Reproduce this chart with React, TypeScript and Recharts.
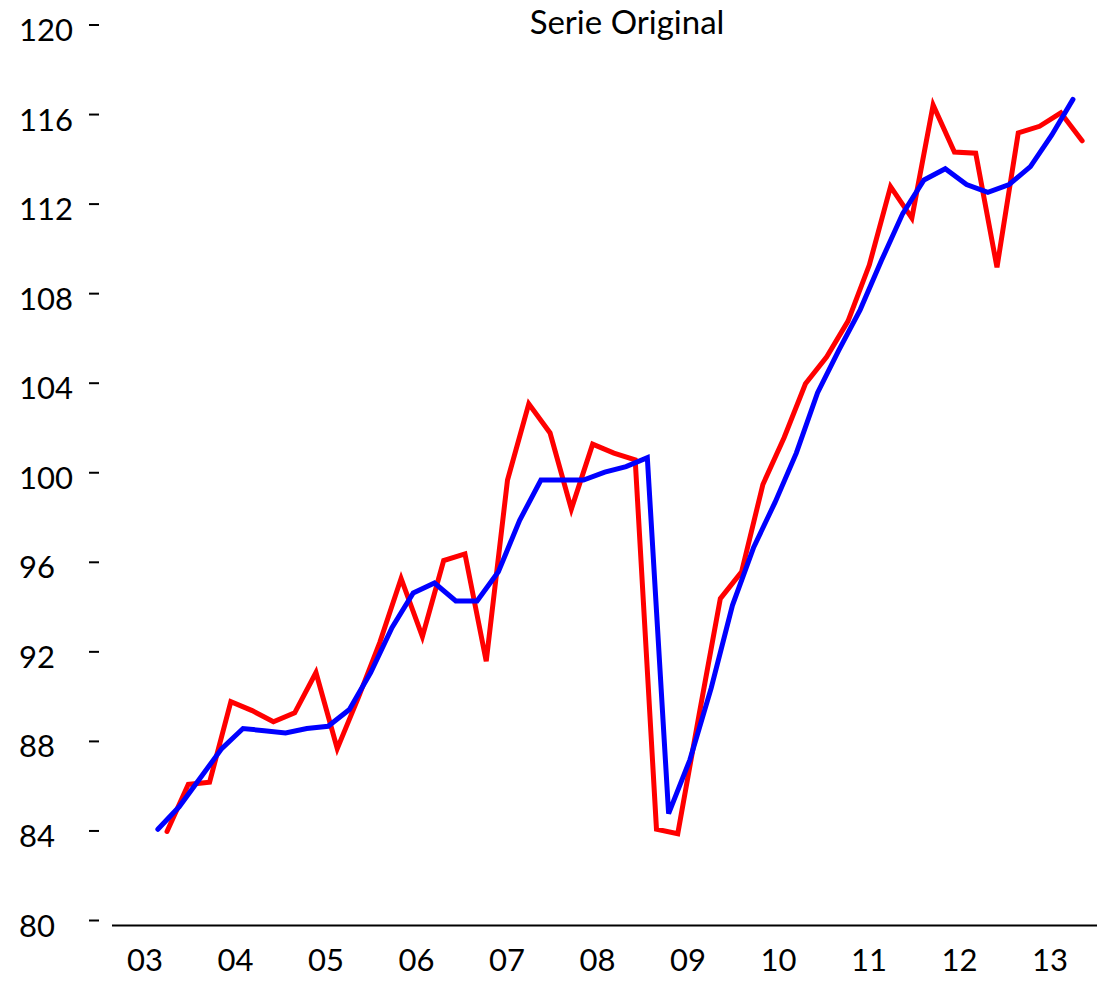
import React from 'react';
import { LineChart, Line, XAxis, YAxis } from 'recharts';

// Quarterly values (44 quarters)
const redValues: number[] = [
  84.2, 86.3, 86.4, 90.0, 89.6, 89.1, 89.5, 91.3, 87.9, 90.2,
  92.65, 95.5, 92.9, 96.3, 96.6, 91.8, 99.9, 103.3, 102.0, 98.6,
  101.5, 101.1, 100.8, 84.3, 84.1, 89.4, 94.6, 95.8, 99.7, 101.8,
  104.2, 105.4, 107.0, 109.5, 113.0, 111.6, 116.65, 114.55, 114.5, 109.4,
  115.4, 115.7, 116.3, 115.05,
];

const blueValues: number[] = [
  84.3, 85.3, 86.6, 87.9, 88.8, 88.7, 88.6, 88.8, 88.9, 89.65,
  91.3, 93.3, 94.85, 95.3, 94.5, 94.5, 95.8, 98.1, 99.9, 99.9,
  99.9, 100.25, 100.5, 100.9, 85.0, 87.4, 90.6, 94.3, 96.9, 98.9,
  101.1, 103.8, 105.7, 107.5, 109.7, 111.8, 113.3, 113.8, 113.1, 112.75,
  113.1, 113.9, 115.3, 116.9,
];

const yearLabels: string[] = ['03', '04', '05', '06', '07', '08', '09', '10', '11', '12', '13'];
const yTicks: number[] = [80, 84, 88, 92, 96, 100, 104, 108, 112, 116, 120];

const title = 'Serie Original';

// layout constants (x in quarter-index units)
const BLUE_SHIFT = -0.43;
const FIRST_YEAR_POS = -1.03;
const YEAR_STEP = 4.252;
const X_DOMAIN: [number, number] = [-2.585, 43.7];

const redData = redValues.map((v, i) => ({ x: i, v }));
const blueData = blueValues.map((v, i) => ({ x: i + BLUE_SHIFT, v }));
const yearTickPos = yearLabels.map((_, k) => FIRST_YEAR_POS + k * YEAR_STEP);

const FONT = 'Lato, "Open Sans", sans-serif';

const YTick = (props: any) => {
  const { y, payload } = props;
  return (
    <g>
      <text x={19} y={y + 11} textAnchor="start" fontSize={31} fontFamily={FONT} fill="#000">
        {payload.value}
      </text>
      <line x1={89} x2={99} y1={y - 5} y2={y - 5} stroke="#000" strokeWidth={2} />
    </g>
  );
};

const XTick = (props: any) => {
  const { x, index } = props;
  return (
    <text x={x} y={971} textAnchor="middle" fontSize={31} fontFamily={FONT} fill="#000">
      {yearLabels[index]}
    </text>
  );
};

export default function App() {
  return (
    <div style={{ position: 'absolute', left: 0, top: 0, width: 1104, height: 987, background: '#fff' }}>
      <LineChart
        width={1104}
        height={987}
        margin={{ top: 30, right: 7, bottom: 0, left: 0 }}
      >
        <XAxis
          type="number"
          dataKey="x"
          domain={X_DOMAIN}
          allowDataOverflow
          ticks={yearTickPos}
          interval={0}
          tick={<XTick />}
          tickLine={false}
          axisLine={{ stroke: '#000', strokeWidth: 2 }}
          height={61.5}
        />
        <YAxis
          type="number"
          domain={[80, 120]}
          ticks={yTicks}
          interval={0}
          tick={<YTick />}
          tickLine={false}
          axisLine={false}
          width={112}
        />
        <Line
          data={redData}
          dataKey="v"
          stroke="#ff0000"
          strokeWidth={5}
          dot={false}
          activeDot={false}
          strokeLinecap="round"
          isAnimationActive={false}
        />
        <Line
          data={blueData}
          dataKey="v"
          stroke="#0000ff"
          strokeWidth={5}
          dot={false}
          activeDot={false}
          strokeLinecap="round"
          isAnimationActive={false}
        />
      </LineChart>
      <svg width={1104} height={50} style={{ position: 'absolute', left: 0, top: 0 }}>
        <text x={627} y={34} textAnchor="middle" fontSize={33} fontFamily={FONT} fill="#000">
          {title}
        </text>
      </svg>
    </div>
  );
}
